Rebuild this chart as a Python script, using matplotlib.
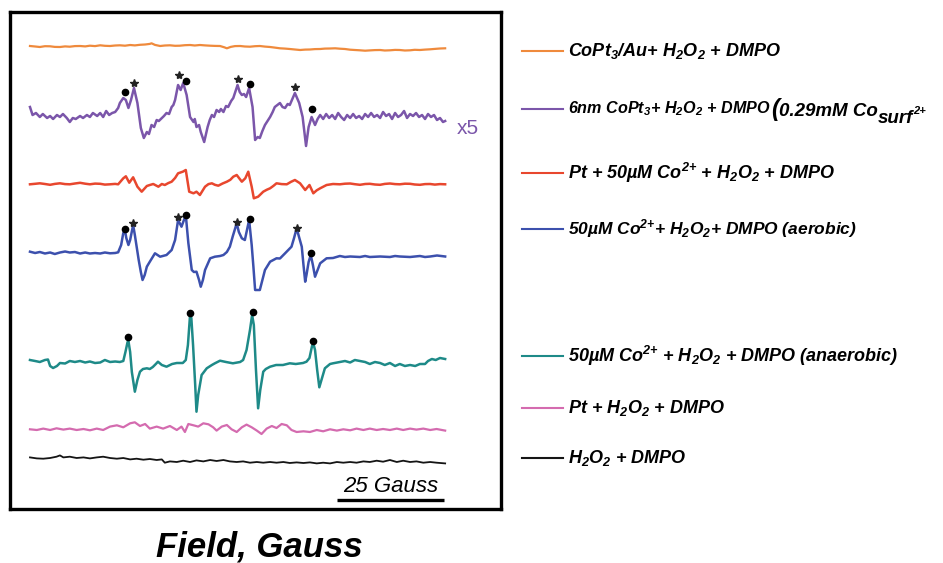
import numpy as np
import matplotlib.pyplot as plt

plt.rcParams['font.family'] = ['Liberation Sans', 'DejaVu Sans']
plt.rcParams['mathtext.fontset'] = 'custom'
plt.rcParams['mathtext.rm'] = 'Liberation Sans:italic:bold'
plt.rcParams['mathtext.it'] = 'Liberation Sans:italic:bold'
plt.rcParams['mathtext.bf'] = 'Liberation Sans:italic:bold'

## EPR spectra: (field from start of sweep in Gauss, signal in a.u.)
orange_points = [
  (0.0, 0.7), (1.2, 0.2), (2.3, -0.3), (3.5, 0.5), (4.7, 0.4), (5.8, -0.2), (7.0, -0.3), (8.2, 0.3),
  (9.3, 0.0), (10.5, 0.6), (11.7, 0.7), (12.9, 0.3), (14.0, 1.0), (15.2, 0.6), (16.4, 1.4), (17.5, 0.9),
  (18.7, 0.7), (19.9, 1.2), (21.0, 1.4), (22.2, 1.0), (23.4, 1.7), (24.5, 1.3), (25.7, 1.9), (26.9, 2.2),
  (28.0, 2.8), (28.4, 3.4), (29.2, 1.8), (30.4, 0.7), (31.5, 1.2), (32.7, 1.4), (33.9, 0.9), (35.0, 1.0),
  (36.2, 1.5), (37.4, 1.7), (38.5, 1.2), (39.7, 1.7), (40.9, 1.3), (42.1, 1.0), (43.2, 0.8), (44.4, 0.7),
  (45.4, -0.6), (46.0, -1.6), (46.9, -0.2), (47.9, 0.6), (49.1, 0.7), (50.2, 0.2), (51.4, 0.0), (52.6, 0.5),
  (53.7, 0.7), (54.9, 0.1), (56.1, -0.3), (57.2, -0.9), (58.4, -1.6), (59.6, -1.9), (60.7, -2.3), (61.9, -2.8),
  (63.1, -3.3), (64.3, -2.9), (65.4, -2.8), (66.6, -2.4), (67.8, -2.3), (68.9, -1.9), (70.1, -1.8), (71.3, -1.6),
  (72.4, -2.0), (73.6, -2.3), (74.8, -3.0), (75.9, -3.3), (77.1, -3.6), (78.3, -4.0), (79.4, -3.7), (80.6, -3.4),
  (81.8, -3.3), (82.9, -3.8), (84.1, -3.6), (85.3, -3.2), (86.4, -3.3), (87.6, -3.8), (88.8, -3.6), (89.9, -3.1),
  (91.1, -3.3), (92.3, -2.9), (93.5, -2.6), (94.6, -2.2), (95.8, -1.8), (97.0, -1.6)]

purple_points = [
  (0.0, 10), (0.6, 2), (1.4, 4), (2.3, 0), (3.0, 3), (4.0, -1), (4.7, 1), (5.4, -2), (6.3, 2), (7.0, 0),
  (7.7, 3), (8.6, -1), (9.3, -5), (10.0, -1), (10.7, -2), (11.7, 1), (12.4, -1), (13.3, 2), (14.0, 0),
  (14.7, 4), (15.7, 1), (16.4, 4), (17.1, 0), (17.8, 6), (18.5, 2), (19.2, 4), (19.9, 5), (20.6, 9),
  (21.0, 14), (21.8, 19), (22.4, 17), (23.0, 9), (23.6, 17), (24.3, 29), (25.1, 14), (25.9, -11),
  (26.6, -21), (27.3, -15), (27.8, -17), (28.4, -8), (29.0, -10), (29.6, -3), (30.1, -4), (30.8, -1),
  (31.3, 1), (31.9, 4), (32.5, 3), (33.1, 10), (33.5, 12), (33.9, 17), (34.6, 32), (35.2, 27), (35.8, 34),
  (36.6, 22), (37.4, 0), (38.2, -5), (38.5, -2), (38.9, -10), (39.5, -8), (39.9, -15), (40.7, -25),
  (41.5, -10), (42.0, -3), (42.5, 2), (43.0, 0), (43.6, 7), (44.2, 5), (44.6, 8), (45.2, 5), (45.8, 11),
  (46.3, 10), (47.0, 16), (47.5, 19), (48.5, 32), (49.0, 25), (49.5, 22), (50.0, 23), (50.5, 20),
  (51.2, 29), (52.0, 10), (52.6, -23), (53.2, -20), (53.7, -21), (54.3, -14), (54.9, -8), (55.5, -4),
  (56.1, 0), (56.7, 5), (57.2, 10), (57.8, 12), (58.4, 14), (59.0, 10), (59.6, 9), (60.2, 13), (60.7, 12),
  (61.3, 18), (61.9, 24), (62.4, 19), (62.9, 14), (63.7, 0), (64.5, -29), (65.1, -10), (65.8, 0),
  (66.6, -8), (67.2, -2), (67.8, 2), (68.5, -2), (69.2, 3), (69.9, -1), (70.6, 2), (71.3, -2), (72.0, 4),
  (72.7, 0), (73.4, -3), (74.1, 2), (74.8, -1), (75.5, 3), (76.2, -1), (76.9, 1), (77.6, -2), (78.3, 3),
  (79.0, 0), (79.7, 4), (80.4, 0), (81.1, 2), (81.8, -1), (82.5, 5), (83.2, 1), (83.9, 3), (84.6, -2),
  (85.3, 4), (86.0, 0), (86.7, 2), (87.4, 6), (88.1, -1), (88.8, 3), (89.5, 1), (90.2, 4), (90.9, 0),
  (91.6, 2), (92.3, -2), (93.0, 3), (93.7, 0), (94.4, 2), (95.1, -3), (95.8, -1), (96.5, -5), (97.0, -4)]

red_points = [
  (0.0, 0), (1.2, 0.5), (2.3, 1), (3.5, 0.3), (4.7, -0.5), (5.8, 0.4), (7.0, 1), (8.2, 0.2), (9.3, 0),
  (10.5, 0.8), (11.7, 1.5), (12.9, 0.6), (14.0, 0), (15.2, 0.7), (16.4, 0.5), (17.5, -0.3), (18.7, 0),
  (19.9, 0.4), (20.6, 0), (21.8, 6), (22.4, 8), (23.2, 1.6), (24.1, 7), (25.1, -2.4), (26.1, -7.4),
  (27.3, -1.7), (28.0, -0.7), (28.8, 0.3), (30.0, -2.4), (30.8, 0.3), (31.5, -0.7), (32.3, 1.2),
  (33.1, 2.6), (33.9, 6.3), (34.6, 11), (35.7, 12.6), (36.4, 14.3), (37.2, -7.4), (38.2, -9), (38.9, -7.4),
  (39.7, -10.7), (40.9, -2.4), (41.7, 0.2), (42.5, 1), (43.2, -0.5), (44.0, -1.4), (45.0, 0.8), (46.0, 2.6),
  (46.8, 4.5), (47.5, 7.6), (48.3, 9.3), (49.5, 2.6), (50.3, 6), (51.0, 12.6), (51.8, -2.4), (52.3, -14),
  (53.3, -12.4), (54.5, -7.4), (55.3, -5.5), (56.1, -4), (56.9, -1.5), (57.6, 1), (58.8, 0.2), (60.0, 0),
  (61.0, 2.5), (61.9, 4.3), (63.1, 1), (64.3, -5.7), (65.3, -0.7), (66.2, -9), (67.0, -6), (67.8, -4),
  (69.3, -0.7), (70.8, 0.3), (72.4, 0), (73.6, 0.6), (74.8, 0.8), (75.9, 0.1), (77.1, -0.5), (78.3, 0.3),
  (79.4, 0.5), (80.6, -0.2), (81.8, -0.5), (82.9, 0.4), (84.1, 0.8), (85.3, 0.2), (86.4, 0), (87.6, 0.6),
  (88.8, 0.5), (89.9, -0.2), (91.1, -0.5), (92.3, 0.2), (93.5, 0.3), (94.6, -0.3), (95.8, 0.2), (97.0, 0)]

blue_points = [
  (0.0, 1.3), (1.2, 0), (2.3, 1), (3.5, -0.5), (4.7, 0.5), (5.8, -1), (7.0, 0.5), (8.2, 1.5), (9.3, 0.5),
  (10.5, 1), (11.7, -0.5), (12.9, 0.5), (14.0, -0.5), (15.2, 0), (16.4, -0.5), (17.5, 0.5), (18.7, -0.3),
  (19.9, 0), (20.6, 0.7), (21.3, 8), (21.8, 20), (22.2, 22.5), (22.5, 15), (23.0, 8), (23.4, 13),
  (24.1, 28), (24.5, 18), (25.4, -7), (25.9, -19), (26.3, -27), (26.8, -22), (27.3, -13.7), (28.0, -8.7),
  (29.2, -0.3), (30.4, -3.7), (31.9, -2), (33.1, 3), (33.9, 13), (34.6, 33), (35.4, 26.3), (36.4, 38),
  (37.0, 10), (37.8, -17), (38.3, -19), (38.9, -18.7), (39.5, -27), (39.9, -33.7), (40.4, -27), (40.9, -17),
  (42.1, -5.3), (43.2, -3.7), (44.4, -3), (45.2, -2), (46.0, 1), (46.7, 6.3), (47.4, 17), (48.3, 29.7),
  (48.8, 21), (49.5, 14.7), (50.2, 13), (51.2, 33), (51.8, 8), (52.2, -13.7), (52.6, -37), (53.2, -37),
  (53.7, -37), (54.3, -27), (54.9, -17), (56.1, -8.7), (57.6, -5.3), (58.4, -5.5), (59.6, -0.3),
  (61.1, 6.3), (61.7, 15), (62.3, 24.7), (62.8, 17), (63.5, 6.3), (63.9, -12), (64.3, -28.7), (64.6, -22),
  (65.1, -9), (65.6, -2), (66.1, -12), (66.6, -23.7), (67.2, -17), (67.8, -10.3), (69.3, -5.3), (70.8, -5),
  (72.4, -3), (73.6, -4), (74.8, -3.5), (77.1, -4), (78.3, -3), (79.4, -4), (81.8, -3.5), (84.1, -4),
  (85.3, -3), (86.4, -3.5), (88.8, -4), (91.1, -3), (92.3, -4), (93.5, -3.5), (95.1, -2.5), (97.0, -3.5)]

teal_points = [
  (0.0, 2), (1.2, 1), (2.3, 0), (3.5, 2), (4.2, 2.5), (4.7, -4), (5.4, -6), (6.3, -4), (7.0, -1),
  (8.2, -1.5), (9.3, 1), (10.5, 0), (11.7, 1), (12.9, -0.5), (14.0, 0.5), (15.2, -1), (16.4, -0.5),
  (17.5, 2), (18.7, 0), (19.9, 0.5), (21.0, 0), (21.8, 1), (22.3, 10), (22.8, 20), (23.0, 21), (23.4, 10),
  (23.8, -10), (24.5, -29.7), (25.1, -18), (25.7, -9.7), (26.4, -7), (27.3, -6.3), (28.0, -7), (28.7, -5),
  (29.4, -2), (29.9, 0.3), (30.8, -3), (31.9, -4.7), (33.2, -2), (34.3, -1), (35.7, -1), (36.4, 2),
  (36.9, 17), (37.4, 47), (37.7, 44), (38.1, 17), (38.6, -23), (38.9, -49.7), (39.3, -33), (40.1, -13),
  (41.3, -6.3), (42.5, -3), (43.2, -1.3), (44.4, 1.3), (45.8, 0), (47.4, -1.3), (49.1, 0), (49.8, 2),
  (50.6, 12), (51.4, 32), (51.9, 47), (52.3, 37), (52.8, -8), (53.3, -46.3), (53.8, -28), (54.5, -9.7),
  (55.1, -7), (56.1, -4.7), (57.5, -3), (59.1, -3), (60.7, -1.3), (62.1, -2), (63.8, -1), (64.6, 0.3),
  (65.3, 4), (65.9, 16), (66.2, 18.7), (66.6, 12), (67.1, -8), (67.6, -25.3), (68.1, -18), (68.9, -6.3),
  (70.1, -2), (70.8, -1.3), (72.4, 0), (73.6, 1), (74.8, -0.5), (75.9, 2), (77.1, 1), (78.3, 0),
  (79.4, -2), (80.6, 0), (81.8, -1), (82.9, -3), (84.1, -1), (85.3, -4), (86.4, -2), (87.6, -4),
  (88.8, -3), (90.0, -4), (91.1, -2), (92.3, -2), (93.0, 1), (93.9, 3), (94.8, 2), (95.8, 4), (97.0, 3)]

pink_points = [
  (0.0, 0), (1.6, -0.7), (3.1, 0.7), (4.7, -0.7), (6.2, 1), (7.8, -0.3), (9.3, 0.7), (10.9, -0.7),
  (12.5, 0.3), (14.0, -1), (15.6, 0.7), (17.1, -0.7), (18.7, 2.7), (20.3, 4), (21.8, 2), (23.4, 6),
  (24.5, 7), (25.7, 3.3), (26.9, 5.3), (28.0, 0.7), (29.6, 2.7), (31.1, 0.7), (32.7, 3.3), (34.3, -0.7),
  (35.4, 2.7), (36.2, -2.7), (37.0, 5.3), (38.2, 4), (39.3, 2.7), (40.5, 6), (41.7, 5), (42.8, 2),
  (43.6, -1.3), (44.8, 2.7), (46.0, 4.3), (47.1, 0), (48.3, -2.7), (49.5, 2), (50.6, 4.7), (51.8, 2),
  (53.0, -1.3), (54.1, -4.7), (55.3, 0.7), (56.5, 3.3), (57.6, 1.3), (58.8, 5.3), (60.0, 4), (61.1, -0.7),
  (62.3, -2.7), (63.9, -2), (65.4, -2.7), (67.0, -0.7), (68.5, -2), (70.1, 0), (71.7, -1.3), (73.2, 0),
  (74.8, -1), (76.3, 0.7), (77.9, -0.7), (79.4, 0.7), (81.0, -0.7), (82.5, 0.3), (84.1, -0.7), (85.7, 0.7),
  (87.2, -0.7), (88.8, 0.7), (90.3, -0.3), (91.9, 0.7), (93.5, -0.7), (95.0, 0.3), (97.0, -1.3)]

black_points = [
  (0.0, 4.3), (1.6, 3.3), (3.1, 3), (4.7, 3.7), (6.2, 5), (7.0, 6.3), (7.8, 4.3), (9.3, 5), (10.9, 3.7),
  (12.5, 4.3), (14.0, 3.3), (15.6, 4.3), (17.1, 5), (18.7, 3.7), (20.3, 3), (21.8, 3.7), (23.4, 2.3),
  (24.9, 3), (26.5, 2), (28.0, 2.7), (29.6, 1.7), (30.8, 2.3), (31.5, -1), (32.7, 0.3), (34.3, -0.3),
  (35.8, 1), (37.4, -0.3), (38.9, 1.3), (40.5, 0.3), (42.1, 1.7), (43.6, 0.7), (45.2, 1.7), (46.7, 0.3),
  (48.3, -0.3), (49.8, 0.3), (51.4, -1), (53.0, -0.3), (54.5, -1), (56.1, -0.3), (57.6, -1), (59.2, -0.3),
  (60.7, -1.3), (62.3, -0.7), (63.9, -1.3), (65.4, -0.7), (67.0, -1.7), (68.5, -1), (70.1, -1.7),
  (71.7, -0.3), (73.2, -1), (74.8, -0.3), (76.3, -1), (77.9, 0.3), (79.4, -0.3), (81.0, 1), (82.5, 0),
  (84.1, 1.7), (85.7, -0.3), (87.2, 1), (88.8, -0.3), (90.3, 0.3), (91.9, -1), (93.5, -0.3), (95.0, -1),
  (97.0, -1.7)]

# peak assignments: dots = DMPO-OH, stars = second adduct
purple_dots = [(22.2, 24.7), (36.4, 36.3), (51.4, 33), (65.8, 7.7)]
purple_stars = [(24.3, 34.3), (34.9, 42), (48.5, 37.7), (61.9, 29.7)]
blue_dots = [(22.2, 23.7), (36.4, 38.3), (51.4, 33.7), (65.6, -0.3)]
blue_stars = [(24.1, 29.7), (34.6, 36), (48.3, 31.3), (62.3, 24.7)]
teal_dots = [(23.0, 24.7), (37.5, 49), (52.0, 49.7), (66.2, 21.3)]

labels = [
  'CoPt$_3$/Au+ H$_2$O$_2$ + DMPO',
  '6nm CoPt$_3$+ H$_2$O$_2$ + DMPO ',
  'Pt + 50µM Co$^{2{+}}$ + H$_2$O$_2$ + DMPO',
  '50µM Co$^{2{+}}$+ H$_2$O$_2$+ DMPO (aerobic)',
  '50µM Co$^{2{+}}$ + H$_2$O$_2$ + DMPO (anaerobic)',
  'Pt + H$_2$O$_2$ + DMPO',
  'H$_2$O$_2$ + DMPO',
]
label_sizes = [13, 11.6, 13, 12.5, 13, 13, 13]
scale_gauss = 25

## layout / style
spectra = [orange_points, purple_points, red_points, blue_points, teal_points, pink_points, black_points]
offsets = [462.3, 392, 324.7, 256, 147, 79.7, 47.3]
colors = ['#EF8A3C', '#7B56AA', '#E8472E', '#3C50AD', '#1E8A88', '#D46BAF', '#151515']
widths = [1.6, 1.8, 1.8, 1.8, 1.8, 1.6, 1.3]
legend_y = [50.7, 109, 173.3, 229, 355.7, 408.3, 458.3]

fig = plt.figure(figsize=(9.43, 5.63), dpi=100)
leg = fig.add_axes([0, 0, 1, 1])
leg.set_xlim(0, 943)
leg.set_ylim(563, 0)
leg.axis('off')

ax = fig.add_axes([10/943, 54/563, 491/943, 497/563])
ax.patch.set_alpha(0)
for pts, off, c, lw in zip(spectra, offsets, colors, widths):
  f, s = np.array(pts).T
  ax.plot(f, s + off, color=c, lw=lw, solid_joinstyle='round')

for pts, off in [(purple_dots, offsets[1]), (blue_dots, offsets[3]), (teal_dots, offsets[4])]:
  f, s = np.array(pts).T
  ax.plot(f, s + off, 'o', color='k', ms=4.5, zorder=5)
for pts, off in [(purple_stars, offsets[1]), (blue_stars, offsets[3])]:
  f, s = np.array(pts).T
  ax.plot(f, s + off, '*', color='#222', ms=6, zorder=5)

# scale bar
bar_end = 96.7
ax.plot([bar_end - scale_gauss, bar_end], [9, 9], color='k', lw=2.4, solid_capstyle='butt')
ax.text(bar_end - scale_gauss/2, 23, f'{scale_gauss} Gauss', ha='center', va='center',
        fontsize=16, style='italic')
ax.text(99.8, 381, 'x5', ha='left', va='center', fontsize=15, color=colors[1])

ax.set_xlim(-4.67, 110.05)
ax.set_ylim(0, 497)
ax.set_xticks([])
ax.set_yticks([])
for sp in ax.spines.values():
  sp.set_linewidth(2.4)
  sp.set_color('k')

bi = dict(fontweight='bold', style='italic')
for y, c, lab, fs in zip(legend_y, colors, labels, label_sizes):
  leg.plot([522, 563], [y, y], color=c, lw=1.5)
  t = leg.text(568, y, lab, ha='left', va='center', fontsize=fs, **bi)
  if lab.startswith('6nm'):
    # surface cobalt concentration, runs off the right edge
    p = leg.annotate('(', xy=(1, 0.45), xycoords=t, ha='left', va='center', fontsize=17, **bi)
    q = leg.annotate('0.29mM Co', xy=(1, 0.45), xycoords=p, ha='left', va='center', fontsize=13.5, **bi)
    r = leg.annotate('surf', xy=(1, 0.05), xycoords=q, ha='left', va='center', fontsize=13.5, **bi)
    leg.annotate('2+', xy=(1, 0.95), xycoords=r, ha='left', va='center', fontsize=8, **bi)

fig.text(259/943, 1 - 547/563, 'Field, Gauss', ha='center', va='center',
         fontsize=25, fontweight='bold', style='italic')

fig.savefig('out.png', dpi=100)
